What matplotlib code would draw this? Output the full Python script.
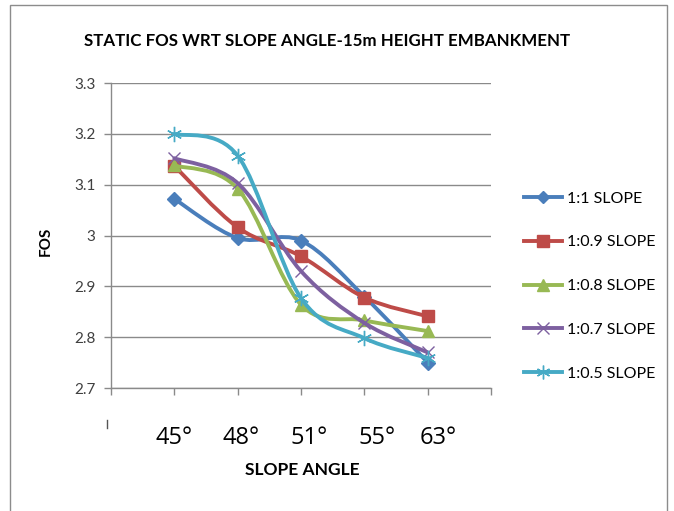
import matplotlib
matplotlib.use("Agg")
import matplotlib.pyplot as plt
from matplotlib.path import Path
from matplotlib.patches import PathPatch, Rectangle
from matplotlib.lines import Line2D

# ---- data ----
angles = ["45°", "48°", "51°", "55°", "63°"]
series_names = ["1:1 SLOPE", "1:0.9 SLOPE", "1:0.8 SLOPE", "1:0.7 SLOPE", "1:0.5 SLOPE"]
fos_1_1 = [3.072, 2.995, 2.990, 2.880, 2.750]
fos_1_09 = [3.137, 3.016, 2.959, 2.878, 2.841]
fos_1_08 = [3.138, 3.092, 2.864, 2.833, 2.812]
fos_1_07 = [3.152, 3.103, 2.930, 2.828, 2.770]
fos_1_05 = [3.200, 3.157, 2.877, 2.798, 2.759]
y_ticks = [2.7, 2.8, 2.9, 3.0, 3.1, 3.2, 3.3]
y_tick_labels = ["2.7", "2.8", "2.9", "3", "3.1", "3.2", "3.3"]

colors = ["#4A7EBB", "#BE4B48", "#98B954", "#7D60A0", "#46AAC5"]
markers = ["D", "s", "^", "x", (6, 2, 0)]
msizes = [7, 9, 9, 9, 11]

FONT = ["Lato", "DejaVu Sans"]

W, H = 674, 511
fig = plt.figure(figsize=(W / 100, H / 100), dpi=100)
fig.patch.set_facecolor("white")

# outer chart border
fig.add_artist(Rectangle((10 / W, -0.1), (667 - 10) / W, 1.1 - 5 / H,
                         transform=fig.transFigure, fill=False,
                         edgecolor="#8C8C8C", linewidth=1.0))

ax = fig.add_axes([111 / W, 1 - 388 / H, 380 / W, 305 / H])
ax.set_xlim(0, 6)
ax.set_ylim(2.7, 3.3)

def smooth_path(xs, ys):
    pts = list(zip(xs, ys))
    n = len(pts)
    verts = [pts[0]]
    codes = [Path.MOVETO]
    for i in range(n - 1):
        p0 = pts[i - 1] if i > 0 else pts[i]
        p1 = pts[i]
        p2 = pts[i + 1]
        p3 = pts[i + 2] if i + 2 < n else pts[i + 1]
        c1 = (p1[0] + (p2[0] - p0[0]) / 6, p1[1] + (p2[1] - p0[1]) / 6)
        c2 = (p2[0] - (p3[0] - p1[0]) / 6, p2[1] - (p3[1] - p1[1]) / 6)
        verts += [c1, c2, p2]
        codes += [Path.CURVE4] * 3
    return Path(verts, codes)

xs = [1, 2, 3, 4, 5]
all_series = [fos_1_1, fos_1_09, fos_1_08, fos_1_07, fos_1_05]
handles = []
for k, (ys, c, m, ms, name) in enumerate(zip(all_series, colors, markers, msizes, series_names)):
    patch = PathPatch(smooth_path(xs, ys), facecolor="none", edgecolor=c,
                      linewidth=2.8, zorder=3 + k, capstyle="round", joinstyle="round")
    ax.add_patch(patch)
    ax.plot(xs, ys, linestyle="none", marker=m, markersize=ms, color=c,
            markeredgecolor=c, markeredgewidth=1.0, zorder=3 + k)
    handles.append(Line2D([0], [0], color=c, linewidth=2.8, marker=m,
                          markersize=ms * 0.9, markeredgewidth=1.0))

# axes styling
ax.set_yticks(y_ticks)
ax.set_yticklabels(y_tick_labels)
ax.set_xticks([0, 1, 2, 3, 4, 5, 6])
ax.set_xticklabels([])
ax.grid(axis="y", color="#8A8A8A", linewidth=1.0)
ax.set_axisbelow(True)
for s in ["top", "right"]:
    ax.spines[s].set_visible(False)
for s in ["left", "bottom"]:
    ax.spines[s].set_color("#8A8A8A")
    ax.spines[s].set_linewidth(1.0)
ax.tick_params(axis="both", color="#8A8A8A", length=5, width=1.0, direction="out",
               labelsize=11, labelcolor="#404040")
ax.tick_params(axis="y", pad=6)
for lbl in ax.get_yticklabels():
    lbl.set_family(FONT)

# category labels below the axis
label_x = [1.0, 2.06, 3.13, 4.2, 5.17]
for xv, t in zip(label_x, angles):
    ax.text(xv, -0.165, t, transform=ax.get_xaxis_transform(), ha="center", va="center",
            fontsize=17, family=["Open Sans", "DejaVu Sans"], color="#000000")
fig.add_artist(Line2D([107 / W, 107 / W], [1 - 428 / H, 1 - 420 / H],
                      transform=fig.transFigure, color="#555555", linewidth=1.0))

fig.text(327 / W, 1 - 41 / H, "STATIC FOS WRT SLOPE ANGLE-15m HEIGHT EMBANKMENT",
         ha="center", va="center", fontsize=12.2, fontweight="bold",
         family=FONT, color="#000000")
fig.text(302 / W, 1 - 470 / H, "SLOPE ANGLE", ha="center", va="center",
         fontsize=12.5, fontweight="bold", family=FONT)
fig.text(46 / W, 1 - 241 / H, "FOS", ha="center", va="center", rotation=90,
         fontsize=11, fontweight="bold", family=FONT)

fig.legend(handles=handles, labels=series_names, loc="center left",
           bbox_to_anchor=(510 / W, 1 - 286 / H), frameon=False,
           prop={"family": FONT, "size": 11.5},
           labelspacing=1.85, handlelength=2.35, handletextpad=0.3)

fig.savefig("out.png", dpi=100, facecolor="white")
